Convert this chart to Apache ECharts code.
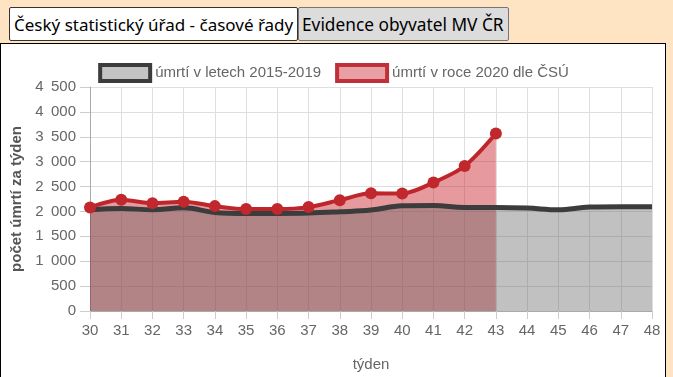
<!DOCTYPE html>
<html>
<head>
<meta charset="utf-8">
<script src="https://cdn.jsdelivr.net/npm/echarts@6/dist/echarts.min.js"></script>
<style>
html, body { margin: 0; padding: 0; background: #ffe4c4; width: 673px; height: 377px; overflow: hidden; }
.btn { position: absolute; top: 7px; height: 34px; box-sizing: border-box; font-family: "Noto Sans", sans-serif; padding: 0 4px; border: 1px solid #767676; border-radius: 2px; line-height: 33px; white-space: nowrap; color: #000; }
#b1 { left: 9px; width: 289px; background: #fff; border-color: #333; font-size: 17px; }
#b2 { left: 298px; width: 211px; background: #dcdcdc; font-size: 17.3px; padding: 0 3px; }
#panel { position: absolute; left: 0; top: 43px; width: 666px; height: 340px; box-sizing: border-box; background: #fff; border: 1px solid #000; }
#zhu_one { position: absolute; left: 1px; top: 44px; width: 665px; height: 333px; }
</style>
</head>
<body>
<div class="btn" id="b1">Český statistický úřad - časové řady</div>
<div class="btn" id="b2">Evidence obyvatel MV ČR</div>
<div id="panel"></div>
<div id="zhu_one"></div>
<script>
var weeks = ['30','31','32','33','34','35','36','37','38','39','40','41','42','43','44','45','46','47','48'];
// průměr 2015-2019
var avg1519 = [2033, 2060, 2033, 2073, 1980, 1960, 1960, 1967, 1993, 2027, 2113, 2120, 2080, 2080, 2067, 2033, 2087, 2093, 2093];
// 2020 dle ČSÚ
var csu2020 = [2080, 2233, 2167, 2193, 2107, 2047, 2047, 2087, 2227, 2365, 2360, 2580, 2913, 3567];
var yMin = 0, yMax = 4500, yStep = 500;

var name1519 = 'úmrtí v letech 2015-2019';
var name2020 = 'úmrtí v roce 2020 dle ČSÚ';

function fmt(v) {
    return String(v).replace(/\B(?=(\d{3})+(?!\d))/g, '\u2002');
}

var myChart = echarts.init(document.getElementById('zhu_one'));

var option = {
    animation: false,
    textStyle: { fontFamily: 'Liberation Sans, Arial, sans-serif' },
    legend: {
        top: 14,
        left: 'center',
        itemWidth: 50,
        itemHeight: 16,
        itemGap: 14,
        textStyle: { fontSize: 15, color: '#666' },
        data: [
            { name: name1519, icon: 'rect',
              itemStyle: { color: '#c4c4c4', borderColor: '#3c3c3c', borderWidth: 4 } },
            { name: name2020, icon: 'rect',
              itemStyle: { color: '#e8a0a4', borderColor: '#c0303a', borderWidth: 4 } }
        ]
    },
    grid: { left: 88, right: 14, top: 43, bottom: 65 },
    xAxis: {
        type: 'category',
        boundaryGap: false,
        data: weeks,
        name: 'týden',
        nameLocation: 'middle',
        nameGap: 46,
        nameTextStyle: { fontSize: 15, color: '#666' },
        axisLine: { lineStyle: { color: '#aaa' } },
        axisTick: { show: true, length: 8, lineStyle: { color: '#ccc' } },
        axisLabel: { fontSize: 15, color: '#666', margin: 12 },
        splitLine: { show: true, lineStyle: { color: '#dedede' } }
    },
    yAxis: {
        type: 'value',
        min: yMin,
        max: yMax,
        interval: yStep,
        name: 'počet úmrtí za týden',
        nameLocation: 'middle',
        nameGap: 66,
        nameTextStyle: { fontSize: 15, color: '#555', fontWeight: 'bold' },
        axisLine: { show: true, lineStyle: { color: '#aaa' } },
        axisTick: { show: true, length: 10, lineStyle: { color: '#ccc' } },
        axisLabel: { fontSize: 15, color: '#666', margin: 14, formatter: fmt },
        splitLine: { lineStyle: { color: '#dedede' } }
    },
    series: [
        // plocha 2020 (pod šedou plochou)
        {
            name: name2020,
            type: 'line',
            data: csu2020,
            smooth: 0.3,
            symbol: 'none',
            lineStyle: { width: 0, opacity: 0 },
            itemStyle: { color: '#c0282e' },
            areaStyle: { color: 'rgba(200,30,40,0.45)', opacity: 1 },
            z: 1
        },
        {
            name: name1519,
            type: 'line',
            data: avg1519,
            smooth: 0.4,
            symbol: 'none',
            lineStyle: { color: '#3c3c3c', width: 5 },
            itemStyle: { color: '#3c3c3c' },
            areaStyle: { color: 'rgba(100,100,100,0.4)', opacity: 1 },
            z: 2
        },
        // čára a body 2020
        {
            name: name2020,
            type: 'line',
            data: csu2020,
            smooth: 0.3,
            symbol: 'circle',
            symbolSize: 12,
            lineStyle: { color: '#bf262c', width: 4 },
            itemStyle: { color: '#c0282e' },
            z: 3
        }
    ]
};
myChart.setOption(option);
</script>
</body>
</html>
